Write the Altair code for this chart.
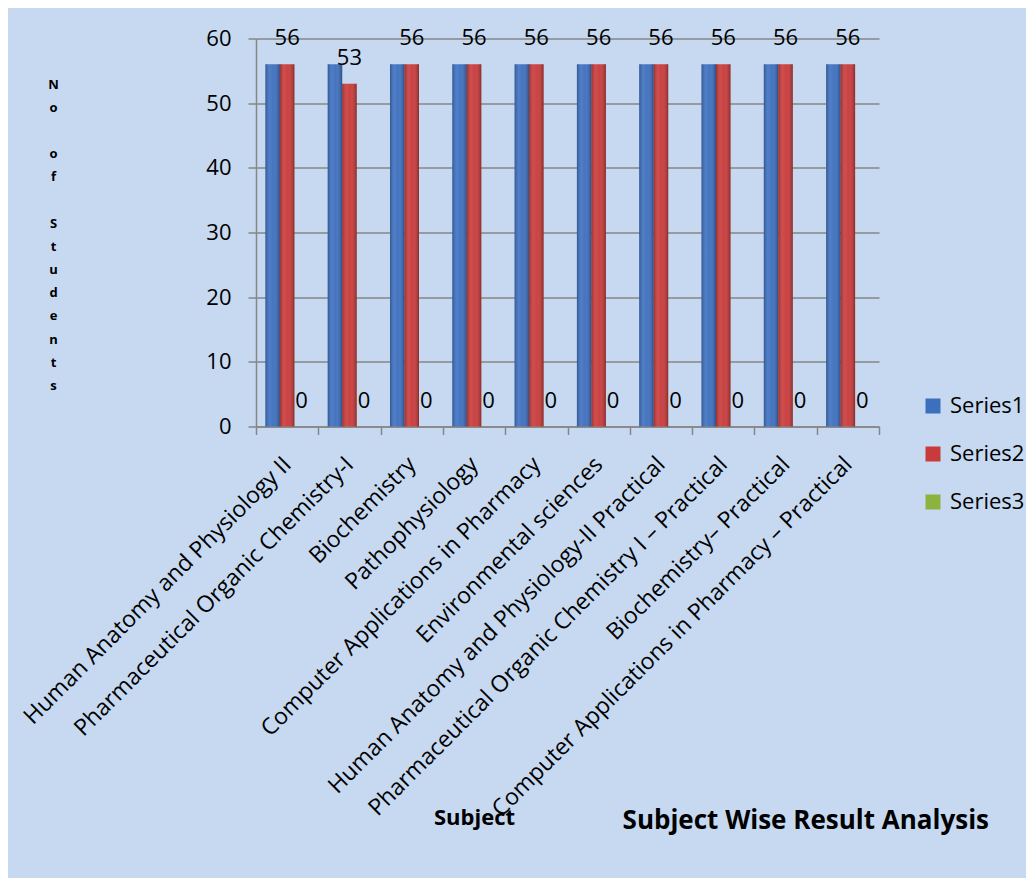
import altair as alt
import pandas as pd

subjects = [
    "Human Anatomy and Physiology II",
    "Pharmaceutical Organic Chemistry-I",
    "Biochemistry",
    "Pathophysiology",
    "Computer Applications in Pharmacy",
    "Environmental sciences",
    "Human Anatomy and Physiology-II Practical",
    "Pharmaceutical Organic Chemistry I \u2013 Practical",
    "Biochemistry\u2013 Practical",
    "Computer Applications in Pharmacy \u2013 Practical",
]
series1 = [56, 56, 56, 56, 56, 56, 56, 56, 56, 56]
series2 = [56, 53, 56, 56, 56, 56, 56, 56, 56, 56]
series3 = [0, 0, 0, 0, 0, 0, 0, 0, 0, 0]
series_names = ["Series1", "Series2", "Series3"]
series_colors = ["#3D6FBF", "#C93A3A", "#8DB33F"]
y_ticks = [0, 10, 20, 30, 40, 50, 60]
BL = "\u2800"
y_title_lines = ["N", "o", BL, "o", "f", BL, "S", "t", "u", "d", "e", "n", "t", "s"]

rows = []
for i, s in enumerate(subjects):
    for name, vals in zip(series_names, [series1, series2, series3]):
        rows.append({"Subject": s, "Series": name, "Value": vals[i]})
df = pd.DataFrame(rows)

FONT = "Open Sans"
GRAY = "#868686"

x_enc = alt.X(
    "Subject:N",
    sort=subjects,
    scale=alt.Scale(paddingInner=0, paddingOuter=0),
    axis=alt.Axis(
        title="Subject",
        labelAngle=-45,
        labelAlign="right",
        labelBaseline="middle",
        labelFontSize=23,
        labelLimit=1000,
        labelOverlap=False,
        labelPadding=26,
        tickBand="extent",
        tickSize=8,
        tickColor=GRAY,
        tickWidth=1.5,
        domainColor=GRAY,
        domainWidth=1.5,
        titleFontSize=22,
        titleFontWeight="bold",
        titleX=218,
        titleY=398,
        titleAlign="center",
        titleBaseline="alphabetic",
        grid=False,
    ),
)

y_enc = alt.Y(
    "Value:Q",
    scale=alt.Scale(domain=[0, 60]),
    axis=alt.Axis(
        values=y_ticks,
        title=y_title_lines,
        titleAngle=0,
        titleX=53 - 256,
        titleY=78 - 38.5,
        titleAlign="center",
        titleBaseline="top",
        titleFontSize=13,
        titleFontWeight="bold",
        titleLineHeight=23.2,
        labelFontSize=22,
        labelPadding=17,
        tickSize=8,
        tickColor=GRAY,
        tickWidth=1.5,
        domainColor=GRAY,
        domainWidth=1.5,
        gridColor=GRAY,
        gridWidth=1.5,
    ),
)

xoff = alt.XOffset(
    "Series:N",
    sort=series_names,
    scale=alt.Scale(domain=series_names, paddingInner=0, paddingOuter=0.648),
)

bars = alt.Chart(df).mark_bar().encode(
    x=x_enc,
    y=y_enc,
    xOffset=xoff,
    color=alt.Color(
        "Series:N",
        scale=alt.Scale(domain=series_names, range=series_colors),
        legend=alt.Legend(
            title=None,
            orient="none",
            legendX=666,
            legendY=356.5,
            symbolType="square",
            symbolSize=225,
            symbolStrokeWidth=0,
            labelFontSize=22,
            labelFont=FONT,
            labelOffset=6,
            rowPadding=26,
            padding=0,
        ),
    ),
)

shade = alt.Chart(df).mark_bar(
    color=alt.Gradient(
        gradient="linear",
        x1=0, x2=1, y1=0, y2=0,
        stops=[
            alt.GradientStop(offset=0, color="rgba(0,0,0,0.22)"),
            alt.GradientStop(offset=0.3, color="rgba(255,255,255,0.10)"),
            alt.GradientStop(offset=0.55, color="rgba(255,255,255,0.04)"),
            alt.GradientStop(offset=1, color="rgba(0,0,0,0.30)"),
        ],
    )
).encode(
    x=alt.X("Subject:N", sort=subjects),
    y=alt.Y("Value:Q"),
    xOffset=xoff,
)

labels = alt.Chart(df).transform_filter(
    "datum.Series != 'Series1'"
).mark_text(fontSize=22, font=FONT, baseline="middle", align="center", dy=-26, color="black").encode(
    x=alt.X("Subject:N", sort=subjects),
    y=alt.Y("Value:Q"),
    xOffset=xoff,
    text=alt.Text("Value:Q"),
)

chart = alt.layer(bars, shade, labels).properties(
    width=623,
    height=388,
    autosize="none",
    padding={"left": 248, "top": 30.5, "right": 147, "bottom": 451.5},
    title=alt.TitleParams(
        "Subject Wise Result Analysis",
        orient="bottom",
        anchor="end",
        frame="group",
        fontSize=26,
        fontWeight="bold",
        font=FONT,
        color="black",
        dx=110,
        dy=0,
        baseline="alphabetic",
        offset=0,
    ),
).configure(
    background="#C6D9F1",
    font=FONT,
).configure_view(
    stroke=None,
).configure_axis(
    labelColor="black",
    titleColor="black",
    labelFont=FONT,
    titleFont=FONT,
)

chart.save("out.html", embed_options={"renderer": "svg", "actions": False})
